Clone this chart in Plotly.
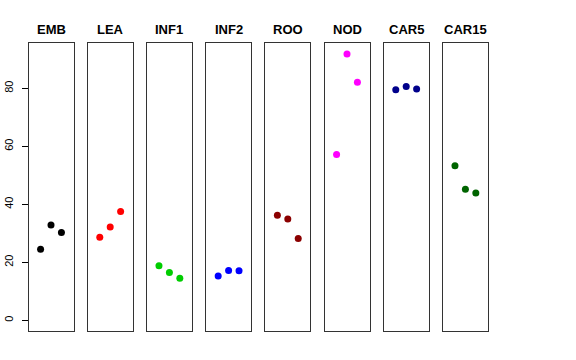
import plotly.graph_objects as go

categories = ["EMB", "LEA", "INF1", "INF2", "ROO", "NOD", "CAR5", "CAR15"]
replicate = [1, 2, 3]
values = {
    "EMB": [24.5, 32.9, 30.3],
    "LEA": [28.6, 32.2, 37.5],
    "INF1": [18.8, 16.5, 14.5],
    "INF2": [15.3, 17.2, 17.1],
    "ROO": [36.2, 34.9, 28.2],
    "NOD": [57.2, 91.8, 82.1],
    "CAR5": [79.5, 80.6, 79.8],
    "CAR15": [53.3, 45.2, 43.9],
}
colors = ["#000000", "#FF0000", "#00CD00", "#0000FF", "#8B0000", "#FF00FF", "#00008B", "#006400"]
y_ticks = [0, 20, 40, 60, 80]

W, H = 576, 360
left0, step, pw = 28.5, 59.2, 45.0
top_px, bot_px = 42.5, 331.0

fig = go.Figure()
layout = dict(
    width=W, height=H, margin=dict(l=0, r=0, t=0, b=0, autoexpand=False),
    paper_bgcolor="white", plot_bgcolor="white", showlegend=False,
    font=dict(family="Liberation Sans, Arial, sans-serif", color="black"),
)
annotations = []
for i, (cat, col) in enumerate(zip(categories, colors)):
    n = "" if i == 0 else str(i + 1)
    l = left0 + step * i
    fig.add_trace(go.Scatter(
        x=replicate, y=values[cat], mode="markers",
        marker=dict(color=col, size=7, line=dict(width=0)),
        xaxis="x" + n, yaxis="y" + n, hoverinfo="skip",
    ))
    layout["xaxis" + n] = dict(
        domain=[l / W, (l + pw) / W], range=[-0.16, 4.16], anchor="y" + n,
        showgrid=False, zeroline=False, showticklabels=False, ticks="",
        showline=True, mirror=True, linecolor="#333333", linewidth=1,
        automargin=False,
    )
    ya = dict(
        domain=[1 - bot_px / H, 1 - top_px / H], range=[-3.7, 95.8], anchor="x" + n,
        showgrid=False, zeroline=False, automargin=False,
        showline=True, mirror=True, linecolor="#333333", linewidth=1,
    )
    if i == 0:
        ya.update(tickmode="array", tickvals=y_ticks, ticks="outside", ticklen=6,
                  tickcolor="black", tickangle=-90, tickfont=dict(size=11, color="black"),
                  ticklabelstandoff=4)
    else:
        ya.update(matches="y", showticklabels=False, ticks="")
    layout["yaxis" + n] = ya
    annotations.append(dict(
        text="<b>" + cat + "</b>", xref="x" + n + " domain", x=0.5,
        yref="paper", y=1 - 29 / H, xanchor="center", yanchor="middle",
        showarrow=False, font=dict(size=13, color="black"),
    ))
layout["annotations"] = annotations
fig.update_layout(**layout)
fig.write_html("out.html", config={"displayModeBar": False, "staticPlot": True},
               post_script="document.body.style.margin='0';document.body.style.overflow='hidden';")
